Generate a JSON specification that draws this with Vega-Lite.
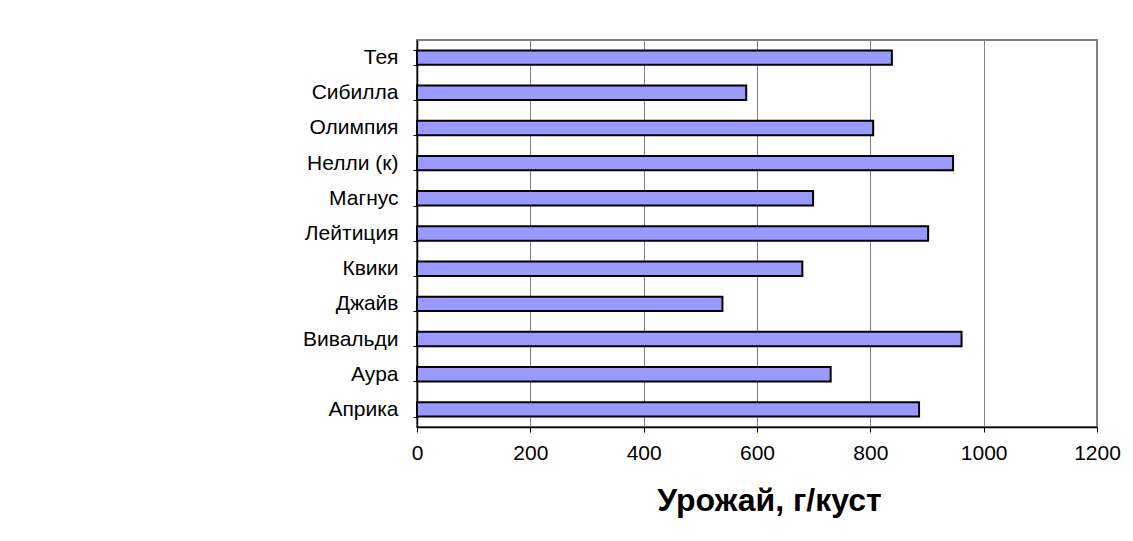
{
  "$schema": "https://vega.github.io/schema/vega-lite/v6.json",
  "width": 680,
  "height": 387,
  "autosize": {"type": "none"},
  "padding": {"left": 417, "top": 40, "right": 36, "bottom": 114},
  "background": "white",
  "config": {
    "font": "Liberation Sans",
    "view": {"stroke": "#808080", "strokeWidth": 2}
  },
  "data": {
    "values": [
      {"sort": "Тея", "yield": 838},
      {"sort": "Сибилла", "yield": 581},
      {"sort": "Олимпия", "yield": 805},
      {"sort": "Нелли (к)", "yield": 946},
      {"sort": "Магнус", "yield": 699},
      {"sort": "Лейтиция", "yield": 902},
      {"sort": "Квики", "yield": 680},
      {"sort": "Джайв", "yield": 539},
      {"sort": "Вивальди", "yield": 961},
      {"sort": "Аура", "yield": 730},
      {"sort": "Априка", "yield": 886}
    ]
  },
  "mark": {"type": "bar", "fill": "#9999FF", "stroke": "#000000", "strokeWidth": 2},
  "encoding": {
    "y": {
      "field": "sort",
      "type": "nominal",
      "sort": null,
      "scale": {"paddingInner": 0.59, "paddingOuter": 0.295},
      "axis": {
        "title": null,
        "domainColor": "#000000",
        "domainWidth": 1.5,
        "tickColor": "#000000",
        "tickSize": 4,
        "tickBand": "extent",
        "labelFontSize": 21,
        "labelColor": "#000000",
        "labelPadding": 15,
        "grid": false
      }
    },
    "x": {
      "field": "yield",
      "type": "quantitative",
      "scale": {"domain": [0, 1200], "nice": false},
      "axis": {
        "title": "Урожай, г/куст",
        "titleFontSize": 32,
        "titleFontWeight": "bold",
        "titleColor": "#000000",
        "titlePadding": 22,
        "titleX": 352,
        "values": [0, 200, 400, 600, 800, 1000, 1200],
        "format": "d",
        "domainColor": "#000000",
        "domainWidth": 1.5,
        "tickColor": "#000000",
        "tickSize": 5,
        "labelFontSize": 21,
        "labelColor": "#000000",
        "labelPadding": 10,
        "labelFlush": false,
        "grid": true,
        "gridColor": "#808080",
        "gridWidth": 1
      }
    }
  }
}
